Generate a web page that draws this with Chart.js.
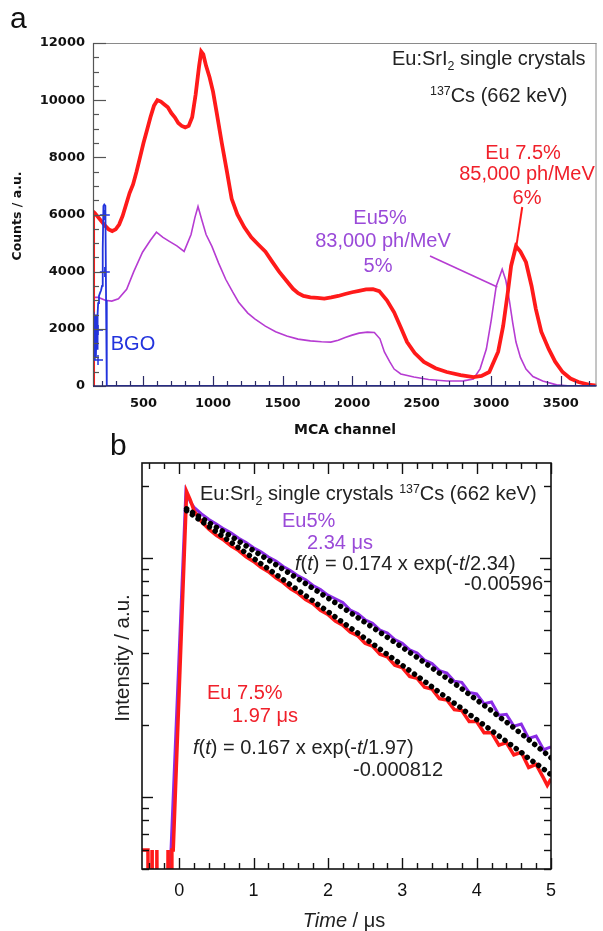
<!DOCTYPE html>
<html><head><meta charset="utf-8">
<script src="https://cdn.jsdelivr.net/npm/chart.js@4/dist/chart.umd.min.js"></script>
<style>
html,body{margin:0;padding:0;background:#fff;width:603px;height:931px;overflow:hidden;}
canvas{position:absolute;left:0;}
#c1{top:0;width:603px;height:460px;}
#c2{top:430px;width:603px;height:501px;}
</style></head><body>
<canvas id="c1" width="603" height="460"></canvas>
<canvas id="c2" width="603" height="501"></canvas>
<script>
// ---------- Panel a : pulse-height spectra ----------
const redCh = [137,138,150,175,200,225,250,275,300,325,350,375,400,425,450,475,500,525,550,575,600,625,650,675,700,725,750,775,800,825,850,875,900,915,930,950,975,1000,1025,1063,1100,1134,1175,1225,1275,1325,1377,1425,1475,1525,1575,1612,1650,1700,1750,1800,1850,1900,1950,2000,2050,2100,2150,2195,2250,2302,2350,2395,2450,2516,2600,2680,2780,2872,2930,2986,3050,3086,3120,3143,3178,3210,3250,3290,3321,3360,3414,3460,3513,3570,3627,3700,3757];
const redCounts = [0,6100,6050,5900,5750,5600,5480,5420,5480,5650,5950,6350,6750,7050,7500,8000,8500,8950,9400,9800,10000,9950,9850,9750,9550,9400,9200,9100,9050,9100,9400,10200,11200,11700,11600,11200,10800,10300,9600,8500,7500,6550,6000,5550,5200,4950,4700,4350,4000,3700,3400,3250,3150,3100,3080,3060,3100,3150,3220,3280,3330,3380,3390,3320,3000,2580,2050,1540,1150,840,620,490,380,314,350,490,1200,2100,3300,4200,4890,4700,4330,3500,2690,1900,1290,850,490,260,140,50,10];
const purCh = [137,175,225,272,320,379,430,493,550,593,640,686,740,792,842,870,892,920,950,992,1040,1091,1140,1184,1250,1300,1376,1450,1530,1611,1700,1780,1847,1900,1950,2000,2050,2110,2160,2200,2232,2270,2302,2350,2444,2550,2680,2800,2872,2920,2965,3000,3036,3079,3105,3129,3155,3178,3210,3250,3300,3370,3470,3550,3757];
const purCounts = [3100,3100,3000,2970,3050,3385,4000,4680,5100,5380,5200,5060,4900,4710,5300,5900,6280,5800,5300,4886,4300,3734,3300,2931,2550,2350,2094,1900,1750,1640,1580,1550,1536,1600,1700,1780,1850,1885,1870,1650,1190,850,593,420,314,230,175,180,244,600,1291,2300,3490,4083,3700,3036,2200,1536,1000,593,330,175,40,10,0];
const bgoCh = [138,142,146,150,154,158,162,166,170,174,180,187,195,202,207,212,218,226,231,236,300,1000,2000,3000,3757];
const bgoCounts = [2600,1200,2400,900,2500,1000,2300,1300,2500,2900,3150,3250,3350,3500,4800,6300,6350,6300,3000,0,0,0,0,0,0];
const bgoMarkCh = [222,222,173,173];
const bgoMarkVal = [5985,3990,1960,910];
const xTicksA = [500,1000,1500,2000,2500,3000,3500];
const yTicksA = [0,2000,4000,6000,8000,10000,12000];
// annotation connector anchors (channel, counts)
const purLineCh = [2560,3044], purLineVal = [4549,3464];
const redLineCh = [3223,3180], redLineVal = [6263,4864];

// ---------- Panel b : decay curves ----------
const tRed = [-0.5,-0.42,-0.418,-0.367,-0.365,-0.363,-0.302,-0.3,-0.298,-0.152,-0.15,-0.148,-0.1,-0.098,-0.08,0.1,0.15,0.2,0.3,0.4,0.5,0.6,0.7,0.8,0.9,1.0,1.1,1.2,1.3,1.4,1.5,1.6,1.7,1.8,1.9,2.0,2.1,2.2,2.3,2.4,2.5,2.6,2.7,2.8,2.9,3.0,3.1,3.2,3.3,3.4,3.5,3.6,3.7,3.8,3.9,4.0,4.1,4.2,4.3,4.4,4.5,4.6,4.7,4.8,4.9,4.95,5.0];
const iRed = [0.006,0.006,0.004,0.004,0.006,0.004,0.004,0.006,0.004,0.004,0.006,0.004,0.004,0.006,0.006,0.19,0.175,0.158,0.142,0.132,0.1245,0.119,0.1122,0.1075,0.1012,0.0968,0.0915,0.0877,0.0826,0.079,0.0744,0.0712,0.067,0.0645,0.0604,0.0581,0.0545,0.0524,0.049,0.0474,0.044,0.0428,0.0396,0.0386,0.0356,0.0348,0.032,0.0314,0.0288,0.0283,0.0258,0.0255,0.0232,0.023,0.0207,0.0207,0.0186,0.0186,0.0165,0.0169,0.015,0.0154,0.0133,0.0137,0.012,0.0112,0.0119];
const tPur = [-0.5,-0.12,-0.115,0.09,0.15,0.2,0.3,0.4,0.5,0.6,0.7,0.8,0.9,1.0,1.1,1.2,1.3,1.4,1.5,1.6,1.7,1.8,1.9,2.0,2.1,2.2,2.3,2.4,2.5,2.6,2.7,2.8,2.9,3.0,3.1,3.2,3.3,3.4,3.5,3.6,3.7,3.8,3.9,4.0,4.1,4.2,4.3,4.4,4.5,4.6,4.7,4.8,4.9,5.0];
const iPur = [0.004,0.004,0.0055,0.19,0.172,0.163,0.153,0.145,0.139,0.1325,0.1272,0.121,0.1162,0.1105,0.1062,0.101,0.0972,0.0922,0.0886,0.0842,0.0812,0.0768,0.0738,0.07,0.0676,0.0652,0.0606,0.0586,0.0552,0.0534,0.05,0.0486,0.0456,0.044,0.0413,0.0401,0.0374,0.0362,0.0338,0.033,0.0305,0.0302,0.0274,0.027,0.0246,0.025,0.022,0.0222,0.0198,0.0202,0.0176,0.018,0.0158,0.0162];
const tFit = [0.1,0.2,0.3,0.4,0.5,0.6,0.7,0.8,0.9,1.0,1.1,1.2,1.3,1.4,1.5,1.6,1.7,1.8,1.9,2.0,2.1,2.2,2.3,2.4,2.5,2.6,2.7,2.8,2.9,3.0,3.1,3.2,3.3,3.4,3.5,3.6,3.7,3.8,3.9,4.0,4.1,4.2,4.3,4.4,4.5,4.6,4.7,4.8,4.9,5.0];
const fitPur = [0.1608,0.1538,0.1471,0.1407,0.1346,0.1287,0.1231,0.1177,0.1125,0.1075,0.1028,0.0982,0.0939,0.0897,0.0857,0.0819,0.0782,0.0747,0.0713,0.0681,0.065,0.062,0.0592,0.0564,0.0538,0.0513,0.0489,0.0466,0.0444,0.0423,0.0403,0.0384,0.0365,0.0347,0.033,0.0314,0.0299,0.0284,0.0269,0.0255,0.0242,0.023,0.0217,0.0206,0.0195,0.0184,0.0174,0.0164,0.0155,0.0146];
const fitRed = [0.1579,0.1501,0.1426,0.1355,0.1287,0.1223,0.1163,0.1104,0.1049,0.0997,0.0947,0.09,0.0855,0.0812,0.0772,0.0733,0.0696,0.0662,0.0628,0.0597,0.0567,0.0538,0.0511,0.0486,0.0461,0.0438,0.0416,0.0395,0.0375,0.0356,0.0338,0.0321,0.0305,0.0289,0.0274,0.026,0.0247,0.0235,0.0222,0.0211,0.02,0.019,0.018,0.0171,0.0162,0.0154,0.0145,0.0138,0.0131,0.0124];
const xTicksB = [0,1,2,3,4,5];
const yTickValsB = [0.005,0.006,0.007,0.008,0.009,0.01,0.02,0.03,0.04,0.05,0.06,0.07,0.08,0.09,0.1,0.2];
const yMajorB = [0.01,0.1];

const SANS = '"Liberation Sans", Arial, sans-serif';
const BOLDF = '"DejaVu Sans", sans-serif';
const RED = '#ff1a1a', REDTXT = '#f0202a', PUR = '#b63cd2', PURTXT = '#9a4ad8', BLUE = '#2233dd';

const pts = (xs, ys) => xs.map((v, i) => ({x: v, y: ys[i]}));

function rich(ctx, parts, x, y, size, color, align) {
  const fontFor = st => {
    const s = (st === 'sub' || st === 'sup') ? size * 0.62 : size;
    return (st === 'i' ? 'italic ' : '') + (st === 'b' ? 'bold ' : '') + s + 'px ' + SANS;
  };
  let w = 0;
  for (const [t, st] of parts) { ctx.font = fontFor(st); w += ctx.measureText(t).width; }
  let cx = align === 'center' ? x - w / 2 : align === 'right' ? x - w : x;
  ctx.fillStyle = color; ctx.textAlign = 'left'; ctx.textBaseline = 'alphabetic';
  const base = y + size * 0.36;
  for (const [t, st] of parts) {
    ctx.font = fontFor(st);
    const dy = st === 'sub' ? size * 0.22 : st === 'sup' ? -size * 0.36 : 0;
    ctx.fillText(t, cx, base + dy);
    cx += ctx.measureText(t).width;
  }
}
function seg(ctx, x1, y1, x2, y2) { ctx.beginPath(); ctx.moveTo(x1, y1); ctx.lineTo(x2, y2); ctx.stroke(); }

const panelA = {
  id: 'panelA',
  afterDraw(chart) {
    const {ctx, chartArea: {left, right, top, bottom}, scales: {x, y}} = chart;
    ctx.save();
    ctx.lineWidth = 1.6;
    ctx.strokeStyle = PUR;
    seg(ctx, x.getPixelForValue(purLineCh[0]), y.getPixelForValue(purLineVal[0]), x.getPixelForValue(purLineCh[1]), y.getPixelForValue(purLineVal[1]));
    ctx.strokeStyle = RED; ctx.lineWidth = 2;
    seg(ctx, x.getPixelForValue(redLineCh[0]), y.getPixelForValue(redLineVal[0]), x.getPixelForValue(redLineCh[1]), y.getPixelForValue(redLineVal[1]));
    ctx.strokeStyle = '#8a8a8a'; ctx.lineWidth = 1;
    seg(ctx, left, top + 0.5, right, top + 0.5);
    seg(ctx, right - 0.5, top, right - 0.5, bottom);
    ctx.strokeStyle = '#555'; ctx.lineWidth = 1.2;
    seg(ctx, left + 0.5, top, left + 0.5, bottom);
    for (let v = 0; v <= 12000; v += 500) {
      const py = Math.round(y.getPixelForValue(v)) + 0.5;
      seg(ctx, left, py, left + (v % 2000 === 0 ? 13 : 6), py);
    }
    ctx.strokeStyle = '#2a2a66'; ctx.lineWidth = 1.5;
    seg(ctx, left, bottom, right, bottom);
    ctx.lineWidth = 1.2;
    for (let v = 200; v <= 3700; v += 100) {
      const px = Math.round(x.getPixelForValue(v)) + 0.5;
      seg(ctx, px, bottom, px, bottom - (v % 500 === 0 ? 10 : 5));
    }
    ctx.font = '30px ' + SANS; ctx.fillStyle = '#111'; ctx.textAlign = 'left'; ctx.textBaseline = 'alphabetic';
    ctx.fillText('a', 10, 28);
    rich(ctx, [['Eu:SrI', 'n'], ['2', 'sub'], [' single crystals', 'n']], 392, 58, 20, '#222', 'left');
    rich(ctx, [['137', 'sup'], ['Cs (662 keV)', 'n']], 430, 95, 20, '#222', 'left');
    rich(ctx, [['Eu 7.5%', 'n']], 523, 152, 20, REDTXT, 'center');
    rich(ctx, [['85,000 ph/MeV', 'n']], 527, 173, 20, REDTXT, 'center');
    rich(ctx, [['6%', 'n']], 527, 197, 20, REDTXT, 'center');
    rich(ctx, [['Eu5%', 'n']], 380, 217, 20, PURTXT, 'center');
    rich(ctx, [['83,000 ph/MeV', 'n']], 383, 240, 20, PURTXT, 'center');
    rich(ctx, [['5%', 'n']], 378, 265, 20, PURTXT, 'center');
    rich(ctx, [['BGO', 'n']], 133, 343, 20, BLUE, 'center');
    ctx.fillStyle = '#111';
    ctx.font = 'bold 14px ' + BOLDF; ctx.textAlign = 'center'; ctx.textBaseline = 'middle';
    ctx.fillText('MCA channel', 345, 430);
    ctx.translate(18, 216); ctx.rotate(-Math.PI / 2);
    ctx.font = 'bold 12.5px ' + BOLDF;
    ctx.fillText('Counts / a.u.', 0, 0);
    ctx.restore();
  }
};

new Chart(document.getElementById('c1'), {
  type: 'line',
  data: {
    datasets: [
      {data: pts(bgoMarkCh, bgoMarkVal), showLine: false, pointStyle: 'cross', pointRadius: 5, pointBorderColor: BLUE, pointBorderWidth: 1.5, borderColor: BLUE},
      {data: pts(bgoCh, bgoCounts), borderColor: BLUE, borderWidth: 1.8, pointRadius: 0},
      {data: pts(redCh, redCounts), borderColor: RED, borderWidth: 3.8, pointRadius: 0},
      {data: pts(purCh, purCounts), borderColor: PUR, borderWidth: 1.6, pointRadius: 0}
    ]
  },
  options: {
    responsive: false, animation: false, devicePixelRatio: 1,
    layout: {padding: {top: 43, right: 2, left: 0, bottom: 0}},
    plugins: {legend: {display: false}, tooltip: {enabled: false}},
    elements: {line: {tension: 0}},
    scales: {
      x: {type: 'linear', min: 137, max: 3757,
        afterFit: s => { s.height = 74; },
        afterBuildTicks: s => { s.ticks = xTicksA.map(v => ({value: v})); },
        grid: {display: false, drawTicks: false}, border: {display: false},
        ticks: {callback: v => String(v), font: {family: BOLDF, weight: 'bold', size: 13}, color: '#111', padding: 10, maxRotation: 0, autoSkip: false}},
      y: {type: 'linear', min: 0, max: 12000,
        afterFit: s => { s.width = 93; },
        afterBuildTicks: s => { s.ticks = yTicksA.map(v => ({value: v})); },
        grid: {display: false, drawTicks: false}, border: {display: false},
        ticks: {callback: v => String(v), font: {family: BOLDF, weight: 'bold', size: 13}, color: '#111', padding: 8, autoSkip: false}}
    }
  },
  plugins: [panelA]
});

const panelB = {
  id: 'panelB',
  afterDraw(chart) {
    const {ctx, chartArea: {left, right, top, bottom}, scales: {x, y}} = chart;
    ctx.save();
    ctx.strokeStyle = '#111'; ctx.lineWidth = 1.6;
    ctx.strokeRect(left, top, right - left, bottom - top);
    ctx.lineWidth = 1.4;
    for (let k = -2; k <= 25; k++) {
      const v = k * 0.2;
      const major = Math.abs(v - Math.round(v)) < 1e-6;
      const len = major ? 11 : 6;
      const px = Math.round(x.getPixelForValue(v)) + 0.5;
      seg(ctx, px, bottom, px, bottom - len);
      seg(ctx, px, top, px, top + len);
    }
    for (const v of yTickValsB) {
      const len = yMajorB.includes(v) ? 11 : 7;
      const py = Math.round(y.getPixelForValue(v)) + 0.5;
      seg(ctx, left, py, left + len, py);
      seg(ctx, right, py, right - len, py);
    }
    ctx.font = '30px ' + SANS; ctx.fillStyle = '#111'; ctx.textAlign = 'left'; ctx.textBaseline = 'alphabetic';
    ctx.fillText('b', 110, 25);
    const O = 430;
    rich(ctx, [['Eu:SrI', 'n'], ['2', 'sub'], [' single crystals ', 'n'], ['137', 'sup'], ['Cs (662 keV)', 'n']], 200, 493 - O, 20, '#222', 'left');
    rich(ctx, [['Eu5%', 'n']], 282, 520 - O, 20, PURTXT, 'left');
    rich(ctx, [['2.34 μs', 'n']], 307, 542 - O, 20, PURTXT, 'left');
    rich(ctx, [['f', 'i'], ['(', 'n'], ['t', 'i'], [') = 0.174 x exp(-', 'n'], ['t', 'i'], ['/2.34)', 'n']], 295, 563 - O, 20, '#222', 'left');
    rich(ctx, [['-0.00596', 'n']], 543, 583 - O, 20, '#222', 'right');
    rich(ctx, [['Eu 7.5%', 'n']], 207, 692 - O, 20, REDTXT, 'left');
    rich(ctx, [['1.97 μs', 'n']], 232, 715 - O, 20, REDTXT, 'left');
    rich(ctx, [['f', 'i'], ['(', 'n'], ['t', 'i'], [') = 0.167 x exp(-', 'n'], ['t', 'i'], ['/1.97)', 'n']], 193, 747 - O, 20, '#222', 'left');
    rich(ctx, [['-0.000812', 'n']], 353, 769 - O, 20, '#222', 'left');
    rich(ctx, [['Time', 'i'], [' / μs', 'n']], 344, 920 - O, 20, '#222', 'center');
    ctx.translate(122, 658 - O); ctx.rotate(-Math.PI / 2);
    rich(ctx, [['Intensity / a.u.', 'n']], 0, 0, 20.5, '#222', 'center');
    ctx.restore();
  }
};

new Chart(document.getElementById('c2'), {
  type: 'line',
  data: {
    datasets: [
      {data: pts(tFit, fitPur), borderColor: '#000', borderWidth: 5.5, borderDash: [0.01, 7], borderCapStyle: 'round', pointRadius: 0},
      {data: pts(tFit, fitRed), borderColor: '#000', borderWidth: 5.5, borderDash: [0.01, 7], borderCapStyle: 'round', pointRadius: 0},
      {data: pts(tRed, iRed), borderColor: '#ff1a1a', borderWidth: 3.5, pointRadius: 0},
      {data: pts(tPur, iPur), borderColor: '#8a2be6', borderWidth: 3, pointRadius: 0}
    ]
  },
  options: {
    responsive: false, animation: false, devicePixelRatio: 1,
    layout: {padding: {top: 33, right: 52, left: 0, bottom: 0}},
    plugins: {legend: {display: false}, tooltip: {enabled: false}},
    elements: {line: {tension: 0}},
    scales: {
      x: {type: 'linear', min: -0.5, max: 5,
        afterFit: s => { s.height = 62; },
        afterBuildTicks: s => { s.ticks = xTicksB.map(v => ({value: v})); },
        grid: {display: false}, border: {display: false},
        ticks: {callback: v => String(v), font: {family: SANS, size: 18}, color: '#111', padding: 3, maxRotation: 0, autoSkip: false}},
      y: {type: 'logarithmic', min: 0.005, max: 0.25,
        afterFit: s => { s.width = 142; },
        grid: {display: false}, border: {display: false},
        ticks: {display: false}}
    }
  },
  plugins: [panelB]
});
</script>
</body></html>
